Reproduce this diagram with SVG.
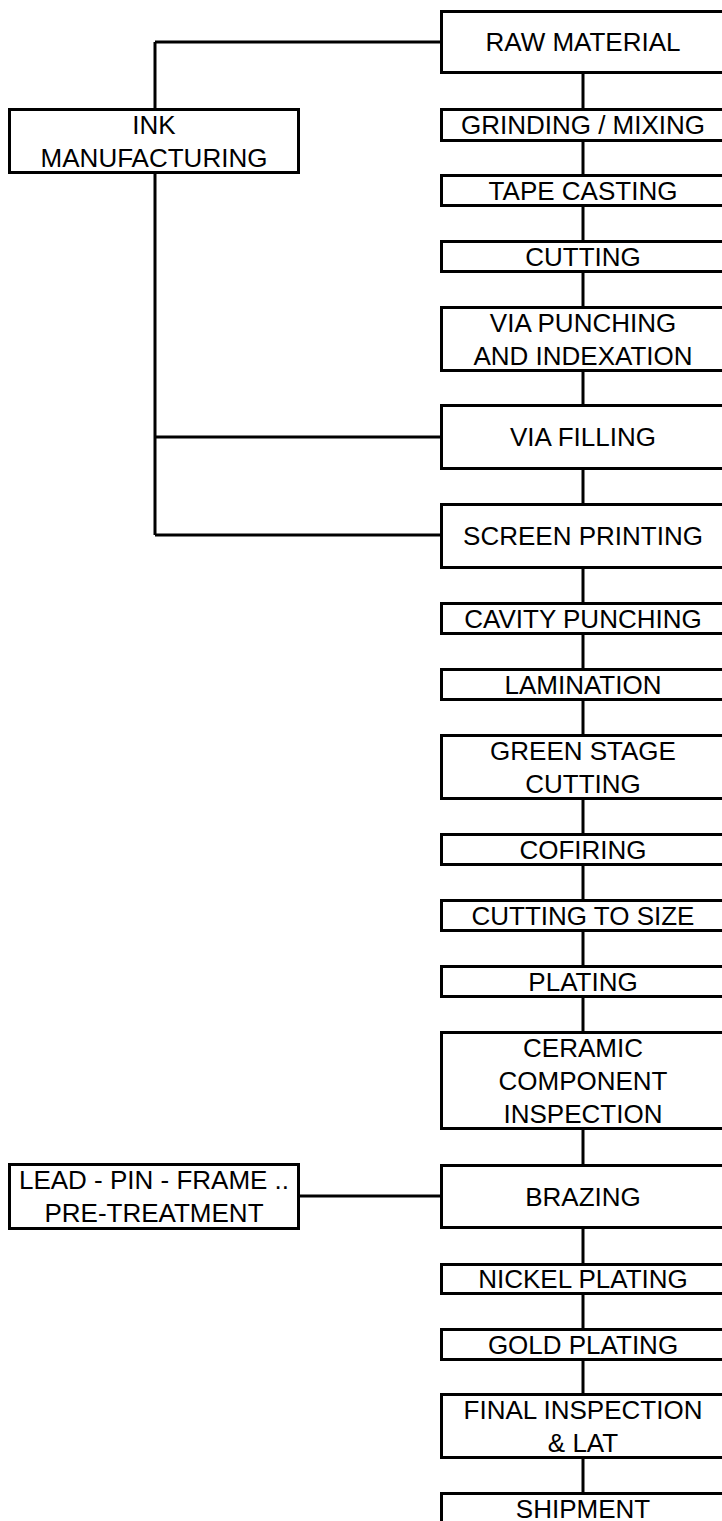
<svg xmlns="http://www.w3.org/2000/svg" width="722" height="1521" viewBox="0 0 722 1521">
<style>
rect{fill:#fff;stroke:#000;stroke-width:3}
.c line{stroke:#000;stroke-width:3}
text{font-family:"Liberation Sans",Arial,sans-serif;font-size:26px;fill:#000;text-anchor:middle}
</style>
<rect x="0" y="0" width="722" height="1521" style="stroke:none"/>
<g class="c" id="connectors">
<line x1="583" y1="74" x2="583" y2="1492"/>
<line x1="155" y1="42" x2="440" y2="42"/>
<line x1="155" y1="42" x2="155" y2="108"/>
<line x1="155" y1="174" x2="155" y2="535"/>
<line x1="155" y1="437" x2="440" y2="437"/>
<line x1="155" y1="535" x2="440" y2="535"/>
<line x1="300" y1="1196" x2="440" y2="1196"/>
</g>
<g id="ink"><rect x="9.5" y="109.5" width="289" height="63"/><text x="154" y="133.5">INK</text><text x="154" y="166.5">MANUFACTURING</text></g>
<g id="lead"><rect x="9.5" y="1164.5" width="289" height="64"/><text x="154" y="1188.5">LEAD - PIN - FRAME ..</text><text x="154" y="1221.5">PRE-TREATMENT</text></g>
<g id="raw"><rect x="441.5" y="11.5" width="300" height="61"/><text x="583" y="51">RAW MATERIAL</text></g>
<g id="grind"><rect x="441.5" y="109.5" width="300" height="31"/><text x="583" y="134">GRINDING / MIXING</text></g>
<g id="tape"><rect x="441.5" y="175.5" width="300" height="30"/><text x="583" y="200">TAPE CASTING</text></g>
<g id="cut"><rect x="441.5" y="241.5" width="300" height="30"/><text x="583" y="266">CUTTING</text></g>
<g id="viap"><rect x="441.5" y="307.5" width="300" height="63"/><text x="583" y="331.5">VIA PUNCHING</text><text x="583" y="364.5">AND INDEXATION</text></g>
<g id="viaf"><rect x="441.5" y="405.5" width="300" height="63"/><text x="583" y="446">VIA FILLING</text></g>
<g id="screen"><rect x="441.5" y="504.5" width="300" height="63"/><text x="583" y="545">SCREEN PRINTING</text></g>
<g id="cavity"><rect x="441.5" y="603.5" width="300" height="30"/><text x="583" y="628">CAVITY PUNCHING</text></g>
<g id="lam"><rect x="441.5" y="669.5" width="300" height="30"/><text x="583" y="694">LAMINATION</text></g>
<g id="green"><rect x="441.5" y="735.5" width="300" height="63"/><text x="583" y="759.5">GREEN STAGE</text><text x="583" y="792.5">CUTTING</text></g>
<g id="cofire"><rect x="441.5" y="834.5" width="300" height="30"/><text x="583" y="859">COFIRING</text></g>
<g id="cts"><rect x="441.5" y="900.5" width="300" height="30"/><text x="583" y="925">CUTTING TO SIZE</text></g>
<g id="plating"><rect x="441.5" y="966.5" width="300" height="30"/><text x="583" y="991">PLATING</text></g>
<g id="ceramic"><rect x="441.5" y="1032.5" width="300" height="96"/><text x="583" y="1056.5">CERAMIC</text><text x="583" y="1089.5">COMPONENT</text><text x="583" y="1122.5">INSPECTION</text></g>
<g id="brazing"><rect x="441.5" y="1165.5" width="300" height="62"/><text x="583" y="1206">BRAZING</text></g>
<g id="nickel"><rect x="441.5" y="1264.5" width="300" height="29"/><text x="583" y="1288">NICKEL PLATING</text></g>
<g id="gold"><rect x="441.5" y="1329.5" width="300" height="30"/><text x="583" y="1354">GOLD PLATING</text></g>
<g id="final"><rect x="441.5" y="1394.5" width="300" height="63"/><text x="583" y="1418.5">FINAL INSPECTION</text><text x="583" y="1451.5">&amp; LAT</text></g>
<g id="ship"><rect x="441.5" y="1493.5" width="300" height="40"/><text x="583" y="1518">SHIPMENT</text></g>
</svg>
